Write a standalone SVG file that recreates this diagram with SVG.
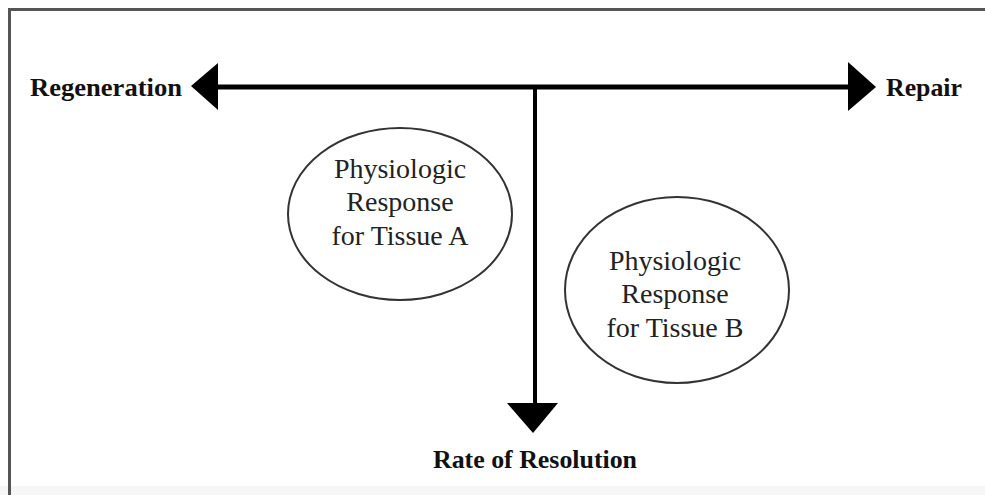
<svg xmlns="http://www.w3.org/2000/svg" width="985" height="495" viewBox="0 0 985 495">
<style>
.lbl{font-family:"Liberation Serif","Times New Roman",serif;font-weight:bold;font-size:26px;fill:#111}
.ntx{font-family:"Liberation Serif","Times New Roman",serif;font-size:28px;fill:#222;text-anchor:middle}
.ell{fill:none;stroke:#333;stroke-width:2}
.ax{stroke:#000;fill:none}
.hd{fill:#000}
</style>
<rect x="0" y="0" width="985" height="495" fill="#fff"/>
<rect x="0" y="486" width="985" height="9" fill="#f6f6f6"/>
<g id="frame" stroke="#555" stroke-width="3" fill="none">
<path d="M9.5 495 V9.5 H985"/>
</g>
<g id="connectors">
<line class="ax" x1="214" y1="87" x2="852" y2="87" stroke-width="5"/>
<polygon class="hd" points="191,86 218,63 218,110"/>
<polygon class="hd" points="876,87 848,62 848,111"/>
<line class="ax" x1="535" y1="87" x2="535" y2="406" stroke-width="4"/>
<polygon class="hd" points="507,403 558,403 533,433"/>
</g>
<g id="regeneration"><text class="lbl" x="30" y="96" textLength="152" lengthAdjust="spacingAndGlyphs">Regeneration</text></g>
<g id="repair"><text class="lbl" x="886" y="96" textLength="76" lengthAdjust="spacingAndGlyphs">Repair</text></g>
<g id="rate"><text class="lbl" x="433" y="468" textLength="204" lengthAdjust="spacingAndGlyphs">Rate of Resolution</text></g>
<g id="tissueA">
<ellipse class="ell" cx="400" cy="214" rx="112" ry="86"/>
<text class="ntx" x="400" y="178">Physiologic</text>
<text class="ntx" x="400" y="211">Response</text>
<text class="ntx" x="400" y="245">for Tissue A</text>
</g>
<g id="tissueB">
<ellipse class="ell" cx="677" cy="290" rx="112" ry="93"/>
<text class="ntx" x="675" y="270">Physiologic</text>
<text class="ntx" x="675" y="303">Response</text>
<text class="ntx" x="675" y="337">for Tissue B</text>
</g>
</svg>
